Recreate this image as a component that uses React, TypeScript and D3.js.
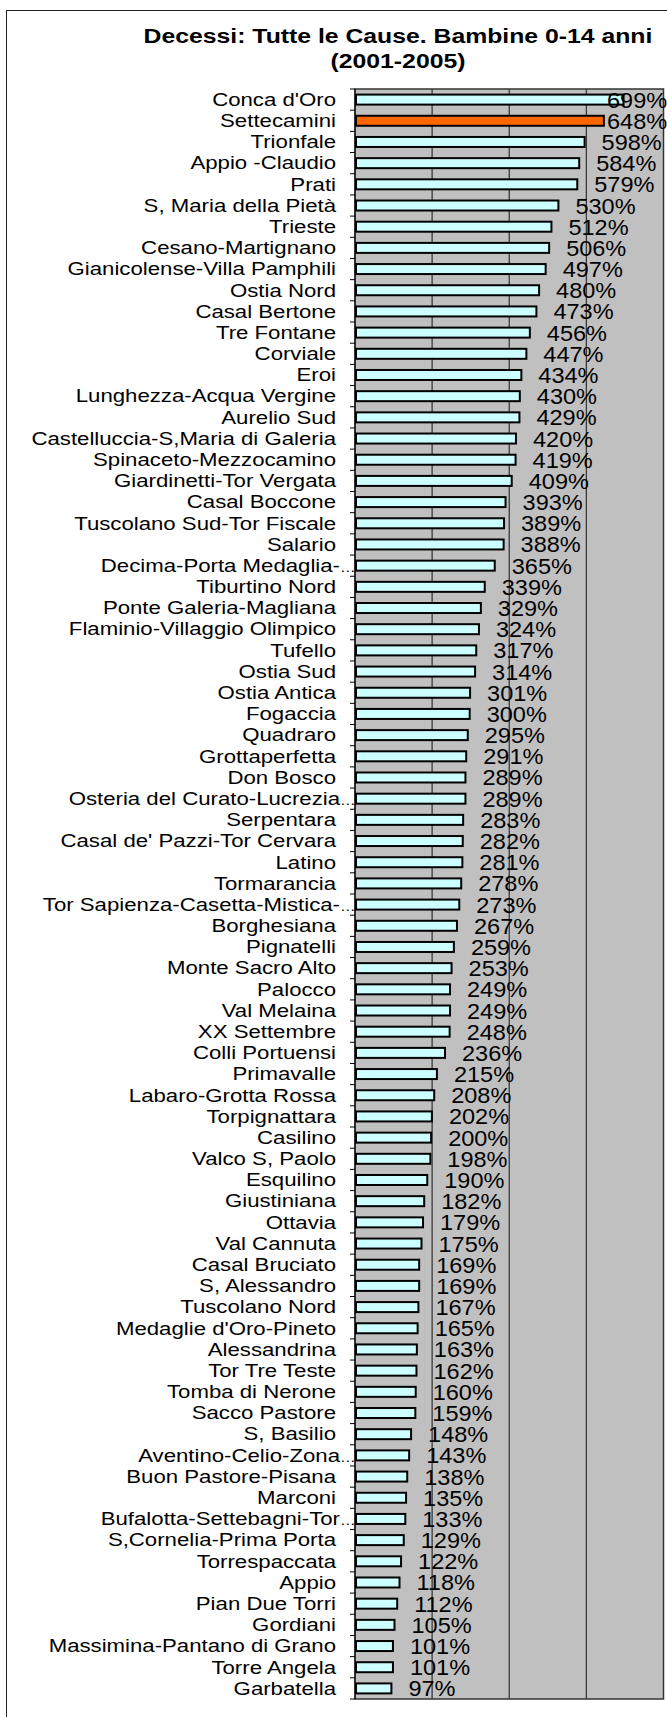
import React from "react";
import * as d3 from "d3";

const titleLines = ["Decessi: Tutte le Cause. Bambine 0-14 anni", "(2001-2005)"];

const categories = [
  "Conca d'Oro", "Settecamini", "Trionfale", "Appio -Claudio", "Prati",
  "S, Maria della Pietà", "Trieste", "Cesano-Martignano", "Gianicolense-Villa Pamphili", "Ostia Nord",
  "Casal Bertone", "Tre Fontane", "Corviale", "Eroi", "Lunghezza-Acqua Vergine",
  "Aurelio Sud", "Castelluccia-S,Maria di Galeria", "Spinaceto-Mezzocamino", "Giardinetti-Tor Vergata", "Casal Boccone",
  "Tuscolano Sud-Tor Fiscale", "Salario", "Decima-Porta Medaglia-…", "Tiburtino Nord", "Ponte Galeria-Magliana",
  "Flaminio-Villaggio Olimpico", "Tufello", "Ostia Sud", "Ostia Antica", "Fogaccia",
  "Quadraro", "Grottaperfetta", "Don Bosco", "Osteria del Curato-Lucrezia…", "Serpentara",
  "Casal de' Pazzi-Tor Cervara", "Latino", "Tormarancia", "Tor Sapienza-Casetta-Mistica-…", "Borghesiana",
  "Pignatelli", "Monte Sacro Alto", "Palocco", "Val Melaina", "XX Settembre",
  "Colli Portuensi", "Primavalle", "Labaro-Grotta Rossa", "Torpignattara", "Casilino",
  "Valco S, Paolo", "Esquilino", "Giustiniana", "Ottavia", "Val Cannuta",
  "Casal Bruciato", "S, Alessandro", "Tuscolano Nord", "Medaglie d'Oro-Pineto", "Alessandrina",
  "Tor Tre Teste", "Tomba di Nerone", "Sacco Pastore", "S, Basilio", "Aventino-Celio-Zona…",
  "Buon Pastore-Pisana", "Marconi", "Bufalotta-Settebagni-Tor…", "S,Cornelia-Prima Porta", "Torrespaccata",
  "Appio", "Pian Due Torri", "Gordiani", "Massimina-Pantano di Grano", "Torre Angela",
  "Garbatella",
];

const values = [
  699, 648, 598, 584, 579,
  530, 512, 506, 497, 480,
  473, 456, 447, 434, 430,
  429, 420, 419, 409, 393,
  389, 388, 365, 339, 329,
  324, 317, 314, 301, 300,
  295, 291, 289, 289, 283,
  282, 281, 278, 273, 267,
  259, 253, 249, 249, 248,
  236, 215, 208, 202, 200,
  198, 190, 182, 179, 175,
  169, 169, 167, 165, 163,
  162, 160, 159, 148, 143,
  138, 135, 133, 129, 122,
  118, 112, 105, 101, 101,
  97,
];

const highlighted = ["Settecamini"];
const xTicks = [0, 200, 400, 600, 800];
const xDomain = [0, 800];

const W = 667;
const H = 1717;
const plot = { left: 355, right: 663.5, top: 89, bottom: 1699 };
const FONT = "'Liberation Sans', Arial, Helvetica, sans-serif";

export default function App() {
  const x = d3.scaleLinear().domain(xDomain).range([plot.left, plot.right]);
  const y = d3.scaleBand<string>().domain(categories).range([plot.top, plot.bottom]);
  const bw = y.bandwidth();
  const barH = 10;

  return (
    <svg
      width={W}
      height={H}
      style={{ position: "absolute", left: 0, top: 0, display: "block" }}
      fontFamily={FONT}
    >
      <rect x={0} y={0} width={W} height={H} fill="#ffffff" />
      {/* outer chart frame */}
      <rect x={6.5} y={10.5} width={W + 20} height={H + 20} fill="none" stroke="#222" strokeWidth={1} />

      {/* title */}
      {titleLines.map((t, i) => (
        <text
          key={i}
          transform={`translate(398,${43 + i * 24.5}) scale(1.18,1)`}
          textAnchor="middle"
          fontWeight="bold"
          fontSize={21}
          fill="#000"
        >
          {t}
        </text>
      ))}

      {/* plot area */}
      <rect
        x={plot.left}
        y={plot.top}
        width={plot.right - plot.left}
        height={plot.bottom - plot.top}
        fill="#C0C0C0"
        stroke="#333"
        strokeWidth={1.5}
      />
      {xTicks.slice(1, -1).map((t) => (
        <line key={t} x1={x(t)} x2={x(t)} y1={plot.top} y2={plot.bottom} stroke="#3a3a3a" strokeWidth={1.3} />
      ))}

      {/* category axis */}
      <line x1={plot.left} x2={plot.left} y1={plot.top} y2={plot.bottom} stroke="#000" strokeWidth={1} />
      {categories.map((c, i) => (
        <line
          key={"tk" + i}
          x1={plot.left - 5}
          x2={plot.left}
          y1={(y(c) as number)}
          y2={(y(c) as number)}
          stroke="#000"
          strokeWidth={1}
        />
      ))}
      <line x1={plot.left - 5} x2={plot.left} y1={plot.bottom} y2={plot.bottom} stroke="#000" strokeWidth={1} />

      {/* bars */}
      {categories.map((c, i) => {
        const cy = (y(c) as number) + bw / 2;
        const x0 = x(0);
        const x1 = x(values[i]);
        return (
          <rect
            key={"b" + i}
            x={x0 + 1}
            y={cy - barH / 2}
            width={x1 - x0 - 2}
            height={barH}
            fill={highlighted.includes(c) ? "#FF6600" : "#CCFFFF"}
            stroke="#000"
            strokeWidth={2}
          />
        );
      })}

      {/* category labels */}
      {categories.map((c, i) => {
        const cy = (y(c) as number) + bw / 2;
        const trunc = c.endsWith("…");
        const main = trunc ? c.slice(0, -1) : c;
        return (
          <g key={"l" + i}>
            <text
              transform={`translate(${trunc ? 340 : 336},${cy + 6.3}) scale(1.2,1)`}
              textAnchor="end"
              fontSize={18.5}
              fill="#000"
            >
              {main}
            </text>
            {trunc && (
              <text transform={`translate(340,${cy + 6.3}) scale(1.2,1)`} fontSize={13} fill="#000">
                …
              </text>
            )}
          </g>
        );
      })}

      {/* value labels */}
      {categories.map((c, i) => {
        const cy = (y(c) as number) + bw / 2;
        const lx = Math.min(x(values[i]) + 16, 607);
        return (
          <text
            key={"v" + i}
            transform={`translate(${lx},${cy + 8}) scale(1.07,1)`}
            fontSize={22}
            fill="#000"
          >
            {values[i] + "%"}
          </text>
        );
      })}
    </svg>
  );
}
